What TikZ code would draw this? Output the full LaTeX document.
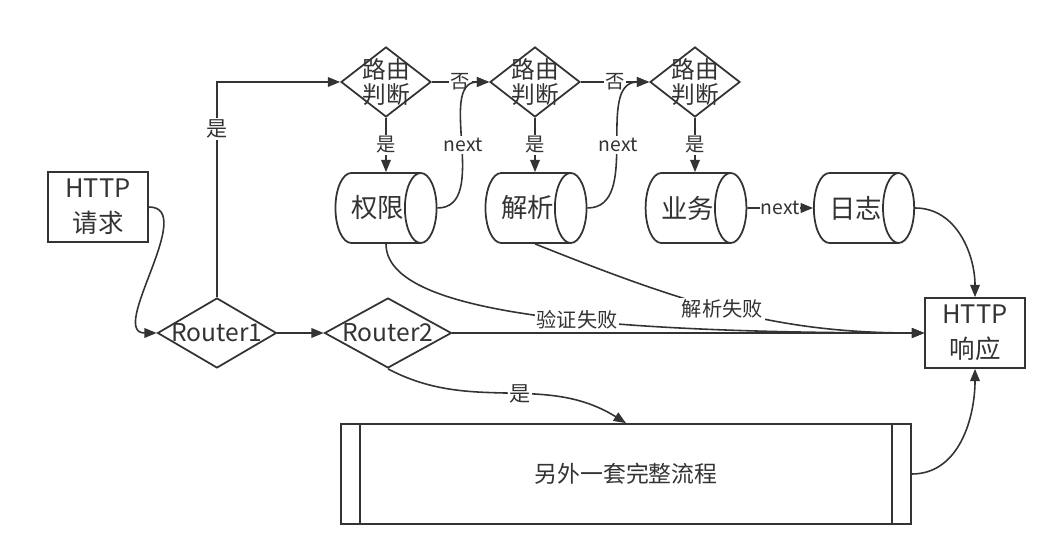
\documentclass[tikz,border=0pt]{standalone}
\usepackage{fontspec}
\setmainfont{Noto Sans CJK SC}
\usetikzlibrary{arrows.meta,shapes.geometric}
\definecolor{LineGray}{HTML}{333333}

\begin{document}
\begin{tikzpicture}[
  x=0.02cm,y=0.02cm,
  every node/.style={text=LineGray,align=center},
  box/.style={draw=LineGray,line width=1pt,minimum width=2cm,minimum height=1.4cm,inner sep=0pt,font=\fontsize{14.5}{20}\selectfont},
  router/.style={diamond,draw=LineGray,line width=1pt,minimum height=1.4cm,inner sep=0pt,font=\fontsize{14}{17}\selectfont},
  judge/.style={router,minimum width=1.8cm,font=\fontsize{13.5}{14.5}\selectfont},
  module/.style={cylinder,draw=LineGray,line width=1pt,aspect=1.3,minimum width=1.4cm,minimum height=2cm,inner sep=0pt,anchor=shape center,font=\fontsize{15}{17}\selectfont},
  arr/.style={-{Triangle[length=7pt,width=5.5pt]},line width=0.9pt,color=LineGray},
  tag/.style={fill=white,inner sep=1pt,font=\fontsize{11}{13}\selectfont}
]
\useasboundingbox (0,0) rectangle (1057,557);
% entry and exit
\node[box] (req) at (98,350) {HTTP\\请求};
\node[box] (resp) at (975,224) {HTTP\\响应};
\node[router,minimum width=2.38cm] (r1) at (217,224) {\makebox[0pt]{Router1}};
\node[router,minimum width=2.54cm] (r2) at (388,224) {\makebox[0pt]{Router2}};
% route chain
\node[judge] (j1) at (386,475) {\makebox[0pt]{路由}\\\makebox[0pt]{判断}};
\node[judge] (j2) at (535,475) {\makebox[0pt]{路由}\\\makebox[0pt]{判断}};
\node[judge] (j3) at (695,475) {\makebox[0pt]{路由}\\\makebox[0pt]{判断}};
\node[module] (auth) at (386,349) {权限};
\node[module] (parse) at (536,349) {解析};
\node[module] (biz) at (696,349) {业务};
\node[module] (log) at (864,349) {日志};
% other flow
\node[box,minimum width=11.4cm,minimum height=2cm,font=\fontsize{13}{15}\selectfont] (other) at (626,83) {另外一套完整流程};
\draw[line width=1pt,LineGray] ([xshift=0.4cm]other.north west) -- ([xshift=0.4cm]other.south west);
\draw[line width=1pt,LineGray] ([xshift=-0.4cm]other.north east) -- ([xshift=-0.4cm]other.south east);

\draw[arr] (req.east) to[out=0,in=180] (r1.west);
\draw[arr] (r1.north) |- node[tag,pos=0.39,font=\fontsize{12}{14}\selectfont] {是} (j1.west);
\draw[arr] (r1) -- (r2);
\draw[arr] (r2) -- (resp);
\draw[arr] (r2.south) to[out=-28,in=148] node[tag,pos=0.55,font=\fontsize{12}{14}\selectfont] {是} (other.north);
\draw[arr] (j1) -- node[tag] {是} (j1 |- auth.north);
\draw[arr] (j2) -- node[tag] {是} (j2 |- parse.north);
\draw[arr] (j3) -- node[tag] {是} (j3 |- biz.north);
\draw[arr] (j1) -- node[tag] {否} (j2);
\draw[arr] (j2) -- node[tag] {否} (j3);
\draw[arr] (auth.east) to[out=0,in=180] node[tag] {next} (j2.west);
\draw[arr] (parse.east) to[out=0,in=180] node[tag] {next} (j3.west);
\draw[arr] (biz) -- node[tag,inner sep=0.5pt] {next} (log);
\draw[arr] (log.east) to[out=0,in=90] (resp.north);
\draw[arr] (j1 |- auth.south) .. controls +(0,-64) and +(-365,0) .. node[tag,pos=0.6,font=\fontsize{11.5}{13}\selectfont] {验证失败} (resp.west);
\draw[arr] (j2 |- parse.south) .. controls +(150,-60) and +(-150,0) .. node[tag,pos=0.48,font=\fontsize{11.5}{13}\selectfont] {解析失败} (resp.west);
\draw[arr] (other.east) to[out=0,in=-90] (resp.south);
\end{tikzpicture}
\end{document}
